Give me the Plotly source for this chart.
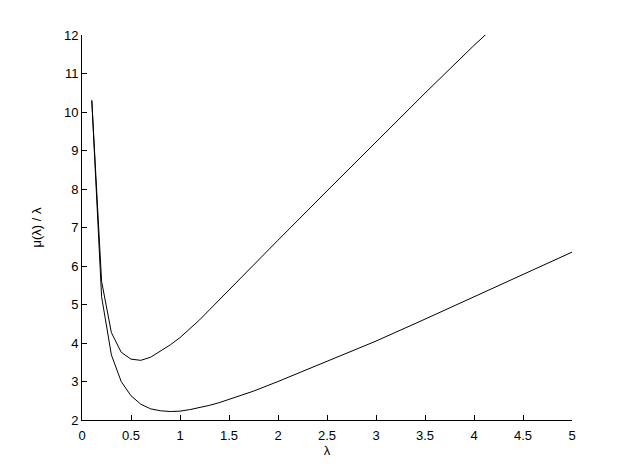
import plotly.graph_objects as go

lam_upper = [0.1, 0.2, 0.3, 0.4, 0.5, 0.6, 0.7, 0.8, 0.9, 1.0, 1.1, 1.2, 1.3, 1.4, 1.5,
             1.75, 2.0, 2.5, 3.0, 3.5, 4.0, 4.2]
mu_upper = [10.3, 5.6, 4.27, 3.76, 3.58, 3.55, 3.63, 3.78, 3.95, 4.14, 4.36, 4.6, 4.86, 5.12, 5.39,
            6.04, 6.67, 7.95, 9.23, 10.49, 11.73, 12.2]

lam_lower = [0.1, 0.2, 0.3, 0.4, 0.5, 0.6, 0.7, 0.8, 0.9, 1.0, 1.1, 1.2, 1.3, 1.4, 1.5,
             1.75, 2.0, 2.5, 3.0, 3.5, 4.0, 4.5, 5.0]
mu_lower = [10.3, 5.2, 3.69, 3.0, 2.63, 2.41, 2.29, 2.24, 2.22, 2.23, 2.27, 2.32, 2.38, 2.45, 2.53,
            2.75, 3.0, 3.52, 4.05, 4.62, 5.2, 5.78, 6.36]

x_ticks = [0, 0.5, 1, 1.5, 2, 2.5, 3, 3.5, 4, 4.5, 5]
x_labels = ["0", "0.5", "1", "1.5", "2", "2.5", "3", "3.5", "4", "4.5", "5"]
y_ticks = [2, 3, 4, 5, 6, 7, 8, 9, 10, 11, 12]

fig = go.Figure()
fig.add_trace(go.Scatter(x=lam_upper, y=mu_upper, mode="lines",
                         line=dict(color="black", width=1), showlegend=False))
fig.add_trace(go.Scatter(x=lam_lower, y=mu_lower, mode="lines",
                         line=dict(color="black", width=1), showlegend=False))

font = dict(family="Liberation Sans, Arial, sans-serif", size=13, color="black")
# the page body adds an 8px margin, so the figure is 16px smaller than the window
fig.update_layout(
    width=616, height=460,
    margin=dict(l=74, r=52, t=27, b=46),
    paper_bgcolor="white", plot_bgcolor="white",
    font=font,
    xaxis=dict(range=[0, 5], tickvals=x_ticks, ticktext=x_labels,
               ticks="inside", ticklen=5, tickcolor="black", tickwidth=1,
               ticklabelstandoff=3,
               showline=True, linecolor="black", linewidth=1,
               showgrid=False, zeroline=False,
               title=dict(text="λ", standoff=4, font=font)),
    yaxis=dict(range=[2, 12], tickvals=y_ticks,
               ticks="inside", ticklen=5, tickcolor="black", tickwidth=1,
               showline=True, linecolor="black", linewidth=1,
               showgrid=False, zeroline=False,
               title=dict(text="μ(λ) / λ", standoff=19, font=font)),
)

fig.write_html("out.html")
